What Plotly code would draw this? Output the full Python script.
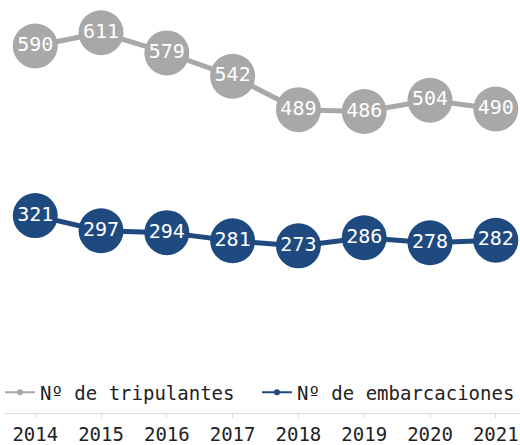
import plotly.graph_objects as go

years = [2014, 2015, 2016, 2017, 2018, 2019, 2020, 2021]
tripulantes = [590, 611, 579, 542, 489, 486, 504, 490]
embarcaciones = [321, 297, 294, 281, 273, 286, 278, 282]

FONT = "DejaVu Sans Mono"
series = [
    ("Nº de tripulantes", tripulantes, "#a8a8a8", "legend"),
    ("Nº de embarcaciones", embarcaciones, "#1f4a80", "legend2"),
]

fig = go.Figure()
for name, vals, color, _ in series:
    fig.add_trace(
        go.Scatter(
            x=years,
            y=vals,
            name=name,
            mode="lines+markers+text",
            text=[str(v) for v in vals],
            textposition="middle center",
            textfont=dict(color="white", size=20, family=FONT),
            line=dict(color=color, width=5),
            marker=dict(color=color, size=45, line=dict(width=0)),
            showlegend=False,
            cliponaxis=False,
        )
    )

# small legend symbols like the reference
for name, vals, color, leg in series:
    fig.add_trace(
        go.Scatter(
            x=[None],
            y=[None],
            name=name,
            mode="lines+markers",
            line=dict(color=color, width=2),
            marker=dict(color=color, size=6),
            legend=leg,
        )
    )

legend_style = dict(
    orientation="h",
    y=0.051,
    yanchor="middle",
    font=dict(size=19, color="#222"),
    itemwidth=30,
    bgcolor="rgba(0,0,0,0)",
)

fig.update_layout(
    width=520,
    height=445,
    margin=dict(l=0, r=0, t=10, b=26),
    plot_bgcolor="white",
    paper_bgcolor="white",
    font=dict(family=FONT, size=19, color="#222"),
    legend=dict(x=-0.008, xanchor="left", **legend_style),
    legend2=dict(x=1.0, xanchor="right", **legend_style),
    xaxis=dict(
        range=[2013.525, 2021.368],
        tickvals=years,
        ticktext=[str(y) for y in years],
        showgrid=False,
        zeroline=False,
        showline=True,
        linecolor="#dddddd",
        linewidth=1,
        ticks="outside",
        ticklen=4,
        tickcolor="#dddddd",
        tickfont=dict(size=19, color="#222"),
    ),
    yaxis=dict(range=[8, 647], visible=False),
)

fig.write_html(
    "out.html",
    config={"displayModeBar": False},
    post_script="document.body.style.margin='0';document.body.style.overflow='hidden';",
)
